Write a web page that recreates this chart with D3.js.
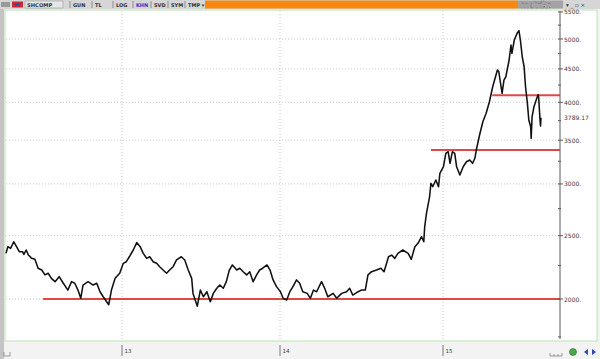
<!DOCTYPE html>
<html>
<head>
<meta charset="utf-8">
<script src="https://cdn.jsdelivr.net/npm/d3@7"></script>
<style>
  html, body { margin: 0; padding: 0; background: #ffffff; }
  svg { display: block; font-family: 'DejaVu Sans', sans-serif; }
</style>
</head>
<body>
<svg id="chart" width="600" height="359"></svg>
<script>
// SHCOMP closes (month-day, value) per year
const days2012 = ['04-23','04-27','05-03','05-10','05-16','05-22','05-29','06-01','06-06','06-11','06-18','06-25','07-02','07-10','07-17','07-24','07-31','08-08','08-17','08-26','09-05','09-13','09-20','09-27','10-03','10-08','10-19','10-30','11-07','11-14','11-21','12-03','12-09','12-17','12-27'];
const close2012 = [2349,2405,2390,2447,2405,2363,2363,2340,2377,2335,2308,2300,2229,2215,2177,2190,2151,2126,2164,2114,2064,2126,2114,2064,2005,2101,2126,2101,2114,2052,2016,1960,2064,2151,2190];

const days2013 = ['01-04','01-11','01-18','01-27','02-04','02-12','02-19','02-27','03-06','03-14','03-22','03-29','04-06','04-14','04-21','04-29','05-07','05-18','05-26','06-03','06-11','06-14','06-24','07-01','07-08','07-16','07-24','07-31','08-08','08-15','08-23','08-30','09-06','09-13','09-23','09-30','10-08','10-16','10-23','10-31','11-08','11-15','11-22','12-02','12-09','12-16','12-24'];
const close2013 = [2268,2281,2321,2377,2440,2405,2349,2308,2321,2281,2268,2241,2215,2190,2215,2241,2295,2321,2295,2215,2151,2040,1950,2064,2016,2052,1981,2040,2077,2101,2077,2126,2215,2255,2215,2229,2202,2177,2202,2126,2177,2215,2229,2255,2215,2139,2089];

const days2014 = ['01-02','01-08','01-16','01-23','01-30','02-07','02-14','02-21','03-03','03-10','03-17','03-24','04-04','04-11','04-18','04-30','05-08','05-19','05-30','06-06','06-13','06-25','07-02','07-11','07-17','07-25','08-05','08-15','08-22','09-01','09-08','09-15','09-22','10-03','10-15','10-22','10-30','11-06','11-14','11-19','11-21','11-25','12-02','12-05','12-09','12-16','12-22','12-25'];
const close2014 = [2052,2005,1993,2052,2089,2139,2114,2052,2040,2005,2064,2052,2126,2077,2016,2040,2005,2040,2052,2077,2028,2052,2064,2064,2177,2202,2215,2229,2202,2321,2335,2308,2349,2377,2349,2300,2405,2434,2491,2447,2580,2705,2868,3007,2971,3042,2971,3114];

const days2015 = ['01-02','01-07','01-12','01-16','01-21','01-26','01-30','02-06','02-13','02-20','02-27','03-05','03-10','03-13','03-20','03-27','04-03','04-10','04-17','04-27','04-30','05-07','05-11','05-15','05-22','05-26','05-28','06-02','06-08','06-12','06-15','06-19','06-23','06-26','06-30','07-03','07-07','07-08','07-10','07-14','07-20','07-23','07-24','07-27','07-28','07-29'];
const close2015 = [3188,3342,3361,3226,3361,3342,3188,3096,3188,3244,3264,3226,3284,3381,3565,3735,3848,4008,4226,4482,4455,4129,4327,4377,4643,4895,4754,4982,5101,5148,4982,4697,4534,4226,3986,3758,3670,3523,3802,3938,4057,4110,4070,3750,3680,3789.17];

// horizontal support / resistance lines
const levelValues = [2000, 3380, 4100];
const levelStarts = ['2012-07-13', '2014-12-05', '2015-04-16'];

// axes
const priceTicks = [2000, 2500, 3000, 3500, 4000, 4500, 5000, 5500];
const priceMinorTicks = [1750, 2250, 2750, 3250, 3750, 4250, 4750, 5250];
const yearTicks = ['2013-01-01', '2014-01-01', '2015-01-01'];
const lastLabel = '3789.17';

const toolbarButtons = ['GUN', 'TL', 'LOG', 'KHN', 'SVD', 'SYM', 'TMP \u25BE'];


const option =
  {
    width: 600,
    height: 359,
    plot: { left: 6, right: 541, top: 39, bottom: 299, axis: 560 },
    frame: { x: 5, y: 10, width: 592, height: 331, color: '#c8e4c2' },
    font: { height: 6, color: '#3a3a3a' },
    line: { color: '#111111', width: 1.55 },
    level: { color: '#e04848', width: 2 },
    grid: { color: '#bcbcbc' },
    toolbar: { height: 9, color: '#d6d6d6', orange: '#f7890f' },
    buttonX: [70, 92, 113, 133, 151, 168, 185]
  };

const parse = d3.timeParse('%Y-%m-%d');

const series = [];
[['2012', days2012, close2012], ['2013', days2013, close2013], ['2014', days2014, close2014], ['2015', days2015, close2015]]
  .forEach(([year, days, closes]) => days.forEach((d, i) => series.push({ date: parse(`${ year }-${ d }`), close: closes[i] })));

const first = series[0].date;
const last  = series[series.length - 1].date;

const x = d3.scaleTime()
  .domain([first, ...yearTicks.map(parse), last])
  .range([option.plot.left, 122, 280, 443, option.plot.right])
;

const y = d3.scaleLog()
  .domain([2000, 5000])
  .range([option.plot.bottom, option.plot.top])
;

const svg = d3.select('#chart');

// window chrome
svg.append('rect')
  .attr('width', option.width)
  .attr('height', option.height)
  .attr('fill', '#f3f3f3')
;

svg.append('rect')
  .attr('x', 0)
  .attr('y', 0)
  .attr('width', 4)
  .attr('height', option.height)
  .attr('fill', '#c4c4c4')
;

svg.append('rect')
  .attr('x', option.frame.x)
  .attr('y', option.frame.y)
  .attr('width', option.frame.width)
  .attr('height', option.frame.height)
  .attr('fill', '#ffffff')
  .attr('stroke', option.frame.color)
  .attr('stroke-width', 1.2)
;

// toolbar
const bar = svg.append('g');

bar.append('rect')
  .attr('width', option.width)
  .attr('height', option.toolbar.height)
  .attr('fill', option.toolbar.color)
;

bar.append('rect')
  .attr('x', 205)
  .attr('y', 0.5)
  .attr('width', 313)
  .attr('height', 8)
  .attr('fill', option.toolbar.orange)
;

bar.append('rect')
  .attr('x', 1)
  .attr('y', 2)
  .attr('width', 9)
  .attr('height', 5)
  .attr('fill', '#9a9a9a')
;

bar.append('rect')
  .attr('x', 12)
  .attr('y', 1.5)
  .attr('width', 11)
  .attr('height', 6)
  .attr('fill', '#c8283c')
;

bar.append('rect')
  .attr('x', 15)
  .attr('y', 3)
  .attr('width', 5)
  .attr('height', 3)
  .attr('fill', '#3a4ab0')
;

bar.append('rect')
  .attr('x', 25)
  .attr('y', 1)
  .attr('width', 38)
  .attr('height', 7)
  .attr('fill', '#e6e6e6')
  .attr('stroke', '#9c9c9c')
  .attr('stroke-width', 0.6)
;

bar.append('text')
  .text('SHCOMP')
  .attr('x', 27)
  .attr('y', 6.8)
  .attr('font-size', 5.2)
  .attr('font-weight', 'bold')
  .attr('fill', '#303030')
;

bar.selectAll('text.button')
  .data(toolbarButtons)
  .join('text')
  .attr('class', 'button')
  .text(d => d)
  .attr('x', (d, i) => option.buttonX[i] + 3)
  .attr('y', 6.8)
  .attr('font-size', 5)
  .attr('font-weight', 'bold')
  .attr('fill', d => d === 'KHN' ? '#2438c8' : '#303030')
;

bar.selectAll('line.sep')
  .data(option.buttonX)
  .join('line')
  .attr('class', 'sep')
  .attr('x1', d => d)
  .attr('x2', d => d)
  .attr('y1', 1)
  .attr('y2', 8)
  .attr('stroke', '#707070')
  .attr('stroke-width', 0.7)
;

bar.append('rect')
  .attr('x', 518)
  .attr('y', 0.5)
  .attr('width', 45)
  .attr('height', 8)
  .attr('fill', '#a3a3a3')
;

bar.append('text')
  .text('matriks')
  .attr('x', 521)
  .attr('y', 7.5)
  .attr('font-size', 8)
  .attr('fill', '#ffffff')
  .attr('stroke', '#555555')
  .attr('stroke-width', 0.3)
;

bar.append('text')
  .text('\u25BE _ \u25AB \u00D7')
  .attr('x', 566)
  .attr('y', 7)
  .attr('font-size', 5.5)
  .attr('fill', '#303030')
;

// grid
svg.append('g')
  .selectAll('line')
  .data(priceTicks.filter(d => d < 5500))
  .join('line')
  .attr('x1', option.frame.x + 1)
  .attr('x2', option.plot.axis - 1)
  .attr('y1', d => y(d))
  .attr('y2', d => y(d))
  .attr('stroke', option.grid.color)
  .attr('stroke-width', 0.8)
  .attr('stroke-dasharray', '1,2')
;

svg.append('g')
  .selectAll('line')
  .data(yearTicks.map(parse))
  .join('line')
  .attr('x1', d => x(d))
  .attr('x2', d => x(d))
  .attr('y1', option.frame.y + 1)
  .attr('y2', option.frame.y + option.frame.height - 1)
  .attr('stroke', option.grid.color)
  .attr('stroke-width', 0.8)
  .attr('stroke-dasharray', '1,2')
;

// levels
svg.append('g')
  .selectAll('line')
  .data(levelValues)
  .join('line')
  .attr('x1', (d, i) => x(parse(levelStarts[i])))
  .attr('x2', option.plot.axis)
  .attr('y1', d => y(d))
  .attr('y2', d => y(d))
  .attr('stroke', option.level.color)
  .attr('stroke-width', option.level.width)
;

// price line
svg.append('path')
  .datum(series)
  .attr('d', d3.line().x(d => x(d.date)).y(d => y(d.close)))
  .attr('fill', 'none')
  .attr('stroke', option.line.color)
  .attr('stroke-width', option.line.width)
  .attr('stroke-linejoin', 'round')
;

// price axis
const axis = svg.append('g');

axis.append('line')
  .attr('x1', option.plot.axis)
  .attr('x2', option.plot.axis)
  .attr('y1', 11)
  .attr('y2', 339)
  .attr('stroke', '#5a5a5a')
  .attr('stroke-width', 1)
;

axis.selectAll('line.major')
  .data(priceTicks)
  .join('line')
  .attr('class', 'major')
  .attr('x1', option.plot.axis - 2)
  .attr('x2', option.plot.axis + 3)
  .attr('y1', d => y(d))
  .attr('y2', d => y(d))
  .attr('stroke', '#5a5a5a')
;

axis.selectAll('line.minor')
  .data(priceMinorTicks)
  .join('line')
  .attr('class', 'minor')
  .attr('x1', option.plot.axis - 2)
  .attr('x2', option.plot.axis + 1)
  .attr('y1', d => y(d))
  .attr('y2', d => y(d))
  .attr('stroke', '#5a5a5a')
;

axis.selectAll('text')
  .data(priceTicks)
  .join('text')
  .text(d => `${ d }.`)
  .attr('x', option.plot.axis + 4)
  .attr('y', d => y(d))
  .attr('font-size', option.font.height)
  .attr('dominant-baseline', 'central')
  .attr('fill', option.font.color)
;

axis.append('text')
  .text(lastLabel)
  .attr('x', option.plot.axis + 4)
  .attr('y', y(series[series.length - 1].close))
  .attr('font-size', option.font.height)
  .attr('dominant-baseline', 'central')
  .attr('fill', option.font.color)
;

// time axis
const time = svg.append('g');

time.selectAll('line')
  .data(yearTicks.map(parse))
  .join('line')
  .attr('x1', d => x(d))
  .attr('x2', d => x(d))
  .attr('y1', 345)
  .attr('y2', 356)
  .attr('stroke', '#555555')
  .attr('stroke-width', 0.8)
;

time.selectAll('text')
  .data(yearTicks.map(parse))
  .join('text')
  .text(d3.timeFormat('%y'))
  .attr('x', d => x(d) + 2.5)
  .attr('y', 352.5)
  .attr('font-size', 5.5)
  .attr('fill', option.font.color)
;

// footer bits
svg.append('path')
  .attr('d', 'M4,352 V356 H10 V352')
  .attr('fill', 'none')
  .attr('stroke', '#777777')
  .attr('stroke-width', 0.7)
;

svg.append('path')
  .attr('d', 'M550,353 V356 H562 V353 M554,354 V356 M558,354 V356')
  .attr('fill', 'none')
  .attr('stroke', '#777777')
  .attr('stroke-width', 0.7)
;

svg.append('circle')
  .attr('cx', 573)
  .attr('cy', 352)
  .attr('r', 3.5)
  .attr('fill', '#4aa84a')
  .attr('stroke', '#2c6e2c')
  .attr('stroke-width', 0.6)
;

svg.append('path')
  .attr('d', 'M584,352 L588,349 L588,355 Z M596,352 L592,349 L592,355 Z')
  .attr('fill', '#2a48b8')
;
</script>
</body>
</html>
